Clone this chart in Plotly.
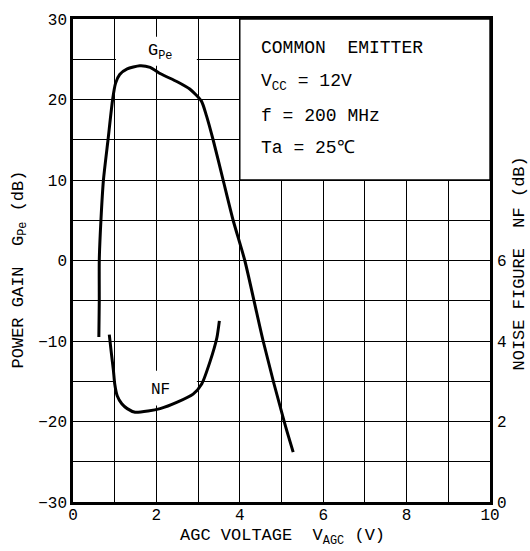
import plotly.graph_objects as go

# Power gain G_Pe (dB) vs AGC voltage (V)
gpe_x = [0.62, 0.63, 0.63, 0.67, 0.73, 0.84, 0.95, 1.02, 1.12, 1.3, 1.6, 1.85, 2.1, 2.5, 2.8, 3.08, 3.2, 3.36, 3.6, 3.84, 4.12, 4.56, 5.08, 5.28]
gpe_y = [-9.5, -5.0, 0.0, 5.0, 10.0, 15.0, 20.0, 22.0, 23.1, 23.8, 24.2, 24.0, 23.2, 22.2, 21.3, 19.8, 18.0, 15.0, 10.0, 5.0, 0.0, -10.0, -20.3, -23.8]

# Noise figure NF (dB) vs AGC voltage (V)
nf_x = [0.87, 0.92, 0.97, 1.0, 1.06, 1.17, 1.3, 1.49, 1.8, 2.09, 2.5, 2.88, 3.09, 3.29, 3.45, 3.51]
nf_y = [4.16, 3.7, 3.26, 2.94, 2.64, 2.44, 2.32, 2.23, 2.26, 2.32, 2.48, 2.68, 2.94, 3.5, 4.08, 4.5]

x_ticks = [0, 2, 4, 6, 8, 10]
y_ticks = [-30, -20, -10, 0, 10, 20, 30]
y2_ticks = [0, 2, 4, 6]

conditions = ["COMMON  EMITTER", "V<sub>CC</sub> = 12V", "f = 200 MHz", "Ta = 25℃"]

FONT = "Liberation Mono"
W, H = 530, 551
ML, MR, MT, MB = 73, 40, 16, 49

fig = go.Figure()
fig.add_trace(go.Scatter(x=gpe_x, y=gpe_y, mode="lines", line=dict(color="black", width=3, shape="spline", smoothing=0.6),
                         showlegend=False, hoverinfo="skip"))
fig.add_trace(go.Scatter(x=nf_x, y=nf_y, mode="lines", yaxis="y2", line=dict(color="black", width=3, shape="spline", smoothing=0.6),
                         showlegend=False, hoverinfo="skip"))

grid = dict(showgrid=True, gridcolor="black", gridwidth=1.4)
fig.update_layout(
    width=W, height=H,
    margin=dict(l=ML, r=MR, t=MT, b=MB),
    paper_bgcolor="white", plot_bgcolor="white",
    font=dict(family=FONT, color="black", size=16),
    xaxis=dict(range=[0, 10], tickvals=x_ticks, ticks="", showline=True, linecolor="black", linewidth=2.5, mirror=True,
               zeroline=False, ticklabelstandoff=-4,
               minor=dict(dtick=1, showgrid=True, gridcolor="black", gridwidth=1.4), **grid),
    yaxis=dict(range=[-30, 30], tickvals=y_ticks, ticks="", showline=True, linecolor="black", linewidth=2.5, mirror=True,
               zeroline=False, minor=dict(dtick=5, showgrid=True, gridcolor="black", gridwidth=1.4),
               tickformat="d", **grid),
    yaxis2=dict(range=[0, 12], tickvals=y2_ticks, overlaying="y", side="right", showgrid=False, zeroline=False,
                ticks="", showline=False, ticklabelstandoff=6),
)

# white masks / condition box (between grid and traces)
fig.add_shape(type="rect", xref="x", yref="y", x0=4, x1=10, y0=10, y1=30, fillcolor="white",
              line=dict(color="black", width=1.4), layer="between")
fig.add_shape(type="rect", xref="x", yref="y", x0=1.03, x1=2.97, y0=24.2, y1=27.8, fillcolor="white",
              line=dict(width=0), layer="between")
fig.add_shape(type="rect", xref="x", yref="y", x0=1.03, x1=2.97, y0=-18.0, y1=-13.7, fillcolor="white",
              line=dict(width=0), layer="between")

fig.add_annotation(x=2.09, y=25.9, xref="x", yref="y", text="G<sub>Pe</sub>", showarrow=False, font=dict(size=17))
fig.add_annotation(x=2.09, y=-16.1, xref="x", yref="y", text="NF", showarrow=False, font=dict(size=16))

ys = [26.4, 22.1, 18.0, 14.0]
for t, yy in zip(conditions, ys):
    fig.add_annotation(x=4.45, y=yy, xref="x", yref="y", text=t, showarrow=False, xanchor="left",
                       font=dict(size=18))

pw, ph = W - ML - MR, H - MT - MB
def px(x, y):
    return (x - ML) / pw, (H - MB - y) / ph

for txt, (cx, cy), ang in [("POWER GAIN  G<sub>Pe</sub> (dB)", (20, 268), -90),
                           ("NOISE FIGURE  NF (dB)", (519, 262), -90),
                           ("AGC VOLTAGE  V<sub>AGC</sub> (V)", (282, 537), 0)]:
    ax, ay = px(cx, cy)
    fig.add_annotation(x=ax, y=ay, xref="paper", yref="paper", text=txt, showarrow=False,
                       xanchor="center", yanchor="middle", textangle=ang, font=dict(size=17))

fig.write_html("out.html", config={"displayModeBar": False},
               post_script="document.body.style.margin='0px';document.body.style.padding='0px';")
